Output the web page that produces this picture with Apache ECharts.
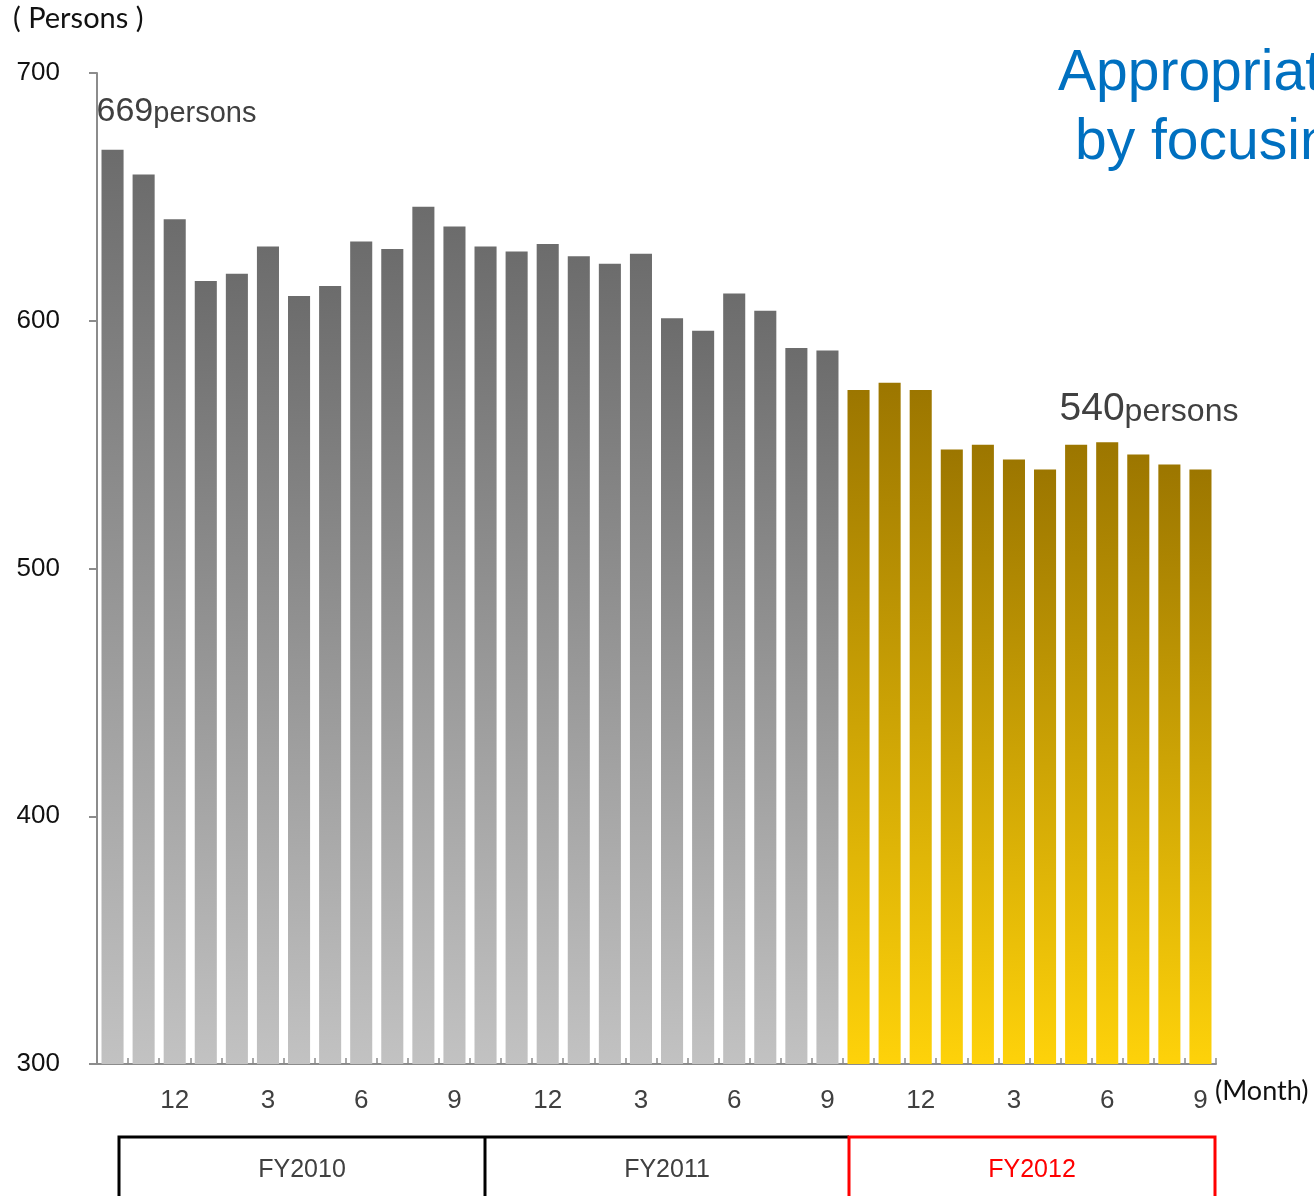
<!DOCTYPE html>
<html>
<head>
<meta charset="utf-8">
<script src="https://cdn.jsdelivr.net/npm/echarts@6/dist/echarts.min.js"></script>
<style>
  html, body { margin: 0; padding: 0; background: #fff; }
  #chart { width: 1314px; height: 1196px; }
</style>
</head>
<body>
<div id="chart"></div>
<script>
// Month of each bar, Oct 2010 through Sep 2013
const months = [10, 11, 12, 1, 2, 3, 4, 5, 6, 7, 8, 9,
                10, 11, 12, 1, 2, 3, 4, 5, 6, 7, 8, 9,
                10, 11, 12, 1, 2, 3, 4, 5, 6, 7, 8, 9];
// Headcount per month (persons)
const persons = [669, 659, 641, 616, 619, 630, 610, 614, 632, 629, 646, 638,
                 630, 628, 631, 626, 623, 627, 601, 596, 611, 604, 589, 588,
                 572, 575, 572, 548, 550, 544, 540, 550, 551, 546, 542, 540];
// First bar of the highlighted fiscal year
const highlightFrom = 24;
// Bars that carry a value callout
const calloutIdx = [0, 35];
const yTicks = [300, 400, 500, 600, 700];
const fiscalYears = ['FY2010', 'FY2011', 'FY2012'];

const grayFill = new echarts.graphic.LinearGradient(0, 0, 0, 1, [
  { offset: 0, color: '#6c6c6c' }, { offset: 1, color: '#c2c2c2' }
]);
const goldFill = new echarts.graphic.LinearGradient(0, 0, 0, 1, [
  { offset: 0, color: '#9c7600' }, { offset: 1, color: '#fed20a' }
]);

const numFont = '"Liberation Sans", Arial, sans-serif';
const textGray = '#404040';

const seriesData = persons.map((v, i) => {
  const item = { value: v, itemStyle: { color: i >= highlightFrom ? goldFill : grayFill } };
  if (i === calloutIdx[0]) {
    item.label = {
      show: true, position: 'top', align: 'left', offset: [-16, -16],
      formatter: (p) => '{a|' + p.value + '}{b|persons}',
      rich: {
        a: { fontFamily: numFont, fontSize: 34, color: textGray },
        b: { fontFamily: numFont, fontSize: 29, color: textGray, padding: [5, 0, 0, 0] }
      }
    };
  } else if (i === calloutIdx[1]) {
    item.label = {
      show: true, position: 'top', align: 'right', offset: [38, -36],
      formatter: (p) => '{a|' + p.value + '}{b|persons}',
      rich: {
        a: { fontFamily: numFont, fontSize: 39, color: textGray },
        b: { fontFamily: numFont, fontSize: 32, color: textGray, padding: [6, 0, 0, 0] }
      }
    };
  }
  return item;
});

const chart = echarts.init(document.getElementById('chart'));

// Fiscal-year brackets under the month axis
const boxTop = 1137, boxBottom = 1200;
const boxEdges = [119, 485, 849, 1215];
const fyGraphics = [];
fyGraphics.push({
  type: 'polyline', silent: true,
  shape: { points: [[boxEdges[0], boxBottom], [boxEdges[0], boxTop], [boxEdges[2], boxTop]] },
  style: { stroke: '#000', lineWidth: 3, fill: null }
});
fyGraphics.push({
  type: 'line', silent: true,
  shape: { x1: boxEdges[1], y1: boxTop, x2: boxEdges[1], y2: boxBottom },
  style: { stroke: '#000', lineWidth: 3 }
});
fyGraphics.push({
  type: 'polyline', silent: true,
  shape: { points: [[boxEdges[2], boxBottom], [boxEdges[2], boxTop], [boxEdges[3], boxTop], [boxEdges[3], boxBottom]] },
  style: { stroke: '#ff0000', lineWidth: 3, fill: null }
});
fiscalYears.forEach((fy, k) => {
  fyGraphics.push({
    type: 'text', silent: true,
    style: {
      text: fy, x: (boxEdges[k] + boxEdges[k + 1]) / 2, y: 1170,
      align: 'center', verticalAlign: 'middle',
      font: '25px ' + numFont, fill: k === 2 ? '#ff0000' : textGray
    }
  });
});

chart.setOption({
  animation: false,
  grid: { left: 97, right: 98, top: 73, bottom: 132, containLabel: false },
  xAxis: {
    type: 'category',
    data: months,
    boundaryGap: true,
    axisLine: { lineStyle: { color: '#8c8c8c', width: 2 } },
    axisTick: { show: true, inside: true, length: 6, interval: 0, lineStyle: { color: '#8c8c8c', width: 1.5 } },
    axisLabel: {
      interval: 0, margin: 24,
      fontFamily: numFont, fontSize: 26, color: textGray,
      formatter: (m) => (Number(m) % 3 === 0 ? String(m) : '')
    }
  },
  yAxis: {
    type: 'value',
    min: yTicks[0], max: yTicks[yTicks.length - 1], interval: 100,
    splitLine: { show: false },
    axisLine: { show: true, lineStyle: { color: '#8c8c8c', width: 2 } },
    axisTick: { show: true, length: 8, lineStyle: { color: '#8c8c8c', width: 2 } },
    axisLabel: { margin: 37, fontFamily: numFont, fontSize: 26, color: '#111' }
  },
  series: [{
    type: 'bar',
    data: seriesData,
    barCategoryGap: '29%'
  }],
  graphic: [
    {
      type: 'text', silent: true,
      style: { text: '( Persons )', x: 13, y: 19, verticalAlign: 'middle',
               font: '29px Lato, "Noto Sans", sans-serif', fill: '#111' }
    },
    {
      type: 'text', silent: true,
      style: { text: '(Month)', x: 1215, y: 1091, verticalAlign: 'middle',
               font: '27px Lato, "Noto Sans", sans-serif', fill: '#111' }
    },
    {
      type: 'text', silent: true,
      style: { text: 'Appropriate staffing', x: 1058, y: 74, verticalAlign: 'middle',
               font: '57px ' + numFont, fill: '#0070c0' }
    },
    {
      type: 'text', silent: true,
      style: { text: 'by focusing', x: 1075, y: 143, verticalAlign: 'middle',
               font: '57px ' + numFont, fill: '#0070c0' }
    }
  ].concat(fyGraphics)
});
</script>
</body>
</html>
